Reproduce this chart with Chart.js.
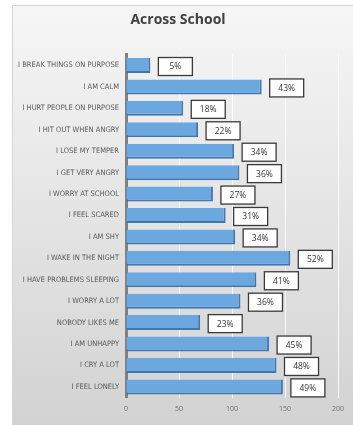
<!DOCTYPE html>
<html>
<head>
<meta charset="utf-8">
<script src="https://cdn.jsdelivr.net/npm/chart.js@4"></script>
<style>
  html,body{margin:0;padding:0;background:#fff;}
  #wrap{position:relative;width:353px;height:425px;overflow:hidden;}
  #panel{position:absolute;left:12px;top:5px;width:345px;height:425px;border:1px solid #d6d6d6;background:linear-gradient(#f6f6f6,#d2d2d2);}
  #c{position:absolute;left:0;top:0;}
</style>
</head>
<body>
<div id="wrap"><div id="panel"></div><canvas id="c" width="353" height="425"></canvas></div>
<script>
const categories = ["I BREAK THINGS ON PURPOSE","I AM CALM","I HURT PEOPLE ON PURPOSE","I HIT OUT WHEN ANGRY","I LOSE MY TEMPER","I GET VERY ANGRY","I WORRY AT SCHOOL","I FEEL SCARED","I AM SHY","I WAKE IN THE NIGHT","I HAVE PROBLEMS SLEEPING","I WORRY A LOT","NOBODY LIKES ME","I AM UNHAPPY","I CRY A LOT","I FEEL LONELY"];
const counts = [23,128,54,68,102,107,82,94,103,155,123,108,70,135,142,148];
const pctLabels = ["5%","43%","18%","22%","34%","36%","27%","31%","34%","52%","41%","36%","23%","45%","48%","49%"];
const xTicks = [0,50,100,150,200];

function byId(id){return document.getElementById(id);}

// white boxed percentage next to every bar
const boxLabels = {
  id:"boxLabels",
  afterDatasetsDraw(chart){
    const ctx = chart.ctx, meta = chart.getDatasetMeta(0);
    ctx.save();
    ctx.font = "8.5px 'Open Sans', sans-serif";
    ctx.textAlign = "center"; ctx.textBaseline = "middle";
    meta.data.forEach((bar,i)=>{
      const w=34, h=18, x=bar.x+8, y=bar.y-h/2+1;
      ctx.fillStyle="#fff"; ctx.fillRect(x,y,w,h);
      ctx.strokeStyle="#3a3a3a"; ctx.lineWidth=1.3; ctx.strokeRect(x,y,w,h);
      ctx.fillStyle="#333"; ctx.fillText(pctLabels[i], x+w/2, y+h/2+0.5);
    });
    ctx.restore();
  }
};

new Chart(byId("c"), {
  type:"bar",
  data:{ labels:categories, datasets:[{ data:counts, backgroundColor:"#6ca8e0", borderColor:"#3f78b0", borderWidth:{right:2,bottom:2,top:0,left:0}, borderSkipped:false, categoryPercentage:1, barPercentage:0.7 }] },
  options:{
    indexAxis:"y", responsive:false, animation:false,
    layout:{ padding:{ top:12, right:15, bottom:5, left:18 } },
    plugins:{
      legend:{display:false}, tooltip:{enabled:false},
      title:{ display:true, text:"Across School", color:"#404040", font:{ family:"'Open Sans', sans-serif", size:14, weight:"bold" }, padding:{top:0,bottom:26} }
    },
    scales:{
      x:{ min:0, max:200, afterBuildTicks:s=>{ s.ticks = xTicks.map(v=>({value:v})); },
          grid:{ color:"rgba(255,255,255,0.8)", drawTicks:false }, border:{display:false},
          ticks:{ color:"#707070", padding:7, font:{ family:"'Open Sans', sans-serif", size:7 } } },
      y:{ grid:{ display:false, drawTicks:false }, border:{ display:true, color:"#808080", width:3 },
          afterFit:s=>{ s.width = 108; },
          ticks:{ color:"#595959", padding:7, font:{ family:"'Liberation Sans Narrow','DejaVu Sans Condensed', sans-serif", size:7.5 } } }
    }
  },
  plugins:[boxLabels]
});
</script>
</body>
</html>
